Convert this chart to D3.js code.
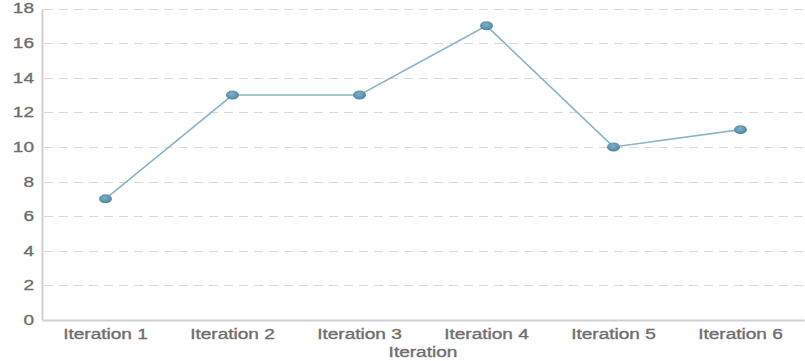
<!DOCTYPE html>
<html>
<head>
<meta charset="utf-8">
<script src="https://cdn.jsdelivr.net/npm/d3@7"></script>
<style>
  html, body { margin: 0; padding: 0; background: #fff; }
  svg { display: block; font-family: "Liberation Sans", Arial, sans-serif; }
</style>
</head>
<body>
<svg id="chart" width="805" height="361"></svg>
<script>
// Iteration categories and their values
const categories = ["Iteration 1", "Iteration 2", "Iteration 3", "Iteration 4", "Iteration 5", "Iteration 6"];
const values = [7, 13, 13, 17, 10, 11];
const yTicks = [0, 2, 4, 6, 8, 10, 12, 14, 16, 18];
const xTitle = "Iteration";

const svg = d3.select("#chart");
const margin = { top: 8.5, right: 1, bottom: 41, left: 42 };
const width = 805, height = 361;
const textColor = "#6f6f6f";
const stretch = 1.36; // wide label lettering

const x = d3.scaleBand().domain(categories).range([margin.left, width - margin.right]);
const y = d3.scaleLinear().domain([0, 18]).range([height - margin.bottom, margin.top]);

function styleText(sel) {
  sel.attr("fill", textColor)
    .attr("stroke", textColor)
    .attr("stroke-width", 0.35)
    .attr("font-size", "14px");
}

// marker gradient
const defs = svg.append("defs");
const grad = defs.append("radialGradient").attr("id", "dotGrad")
  .attr("cx", "45%").attr("cy", "40%").attr("r", "60%");
grad.append("stop").attr("offset", "0%").attr("stop-color", "#7fb0c6");
grad.append("stop").attr("offset", "100%").attr("stop-color", "#4c86a1");

// dashed horizontal gridlines
svg.append("g")
  .selectAll("line")
  .data(yTicks.filter(d => d > 0))
  .join("line")
  .attr("x1", margin.left + 2)
  .attr("x2", width)
  .attr("y1", d => Math.round(y(d)) + 0.5)
  .attr("y2", d => Math.round(y(d)) + 0.5)
  .attr("stroke", "#d9d9d9")
  .attr("stroke-width", 1.2)
  .attr("stroke-dasharray", "9,6");

// y axis
const yAxis = svg.append("g")
  .attr("transform", `translate(${margin.left},0)`)
  .call(d3.axisLeft(y).tickValues(yTicks).tickSize(0).tickPadding(0));
yAxis.select(".domain").attr("stroke", "#d0d0d0").attr("stroke-width", 2);
yAxis.selectAll("text")
  .attr("x", -8 / stretch)
  .attr("transform", `scale(${stretch},1)`)
  .call(styleText);

// x axis
const xAxis = svg.append("g")
  .attr("transform", `translate(0,${height - margin.bottom})`)
  .call(d3.axisBottom(x).tickSize(0).tickPadding(9));
xAxis.select(".domain").attr("stroke", "#d0d0d0").attr("stroke-width", 2);
xAxis.selectAll("text")
  .attr("transform", `scale(${stretch},1)`)
  .call(styleText);

// x axis title
svg.append("text")
  .attr("transform", `translate(${(margin.left + width - margin.right) / 2},${height - 4}) scale(${stretch},1)`)
  .attr("text-anchor", "middle")
  .call(styleText)
  .text(xTitle);

// series line
const data = categories.map((c, i) => ({ c, v: values[i] }));
const line = d3.line()
  .x(d => x(d.c) + x.bandwidth() / 2)
  .y(d => y(d.v));
svg.append("path")
  .datum(data)
  .attr("fill", "none")
  .attr("stroke", "#89b5c8")
  .attr("stroke-width", 1.6)
  .attr("d", line);

// markers
svg.append("g")
  .selectAll("ellipse")
  .data(data)
  .join("ellipse")
  .attr("cx", d => x(d.c) + x.bandwidth() / 2)
  .attr("cy", d => y(d.v))
  .attr("rx", 6.5)
  .attr("ry", 4.5)
  .attr("fill", "url(#dotGrad)");
</script>
</body>
</html>
